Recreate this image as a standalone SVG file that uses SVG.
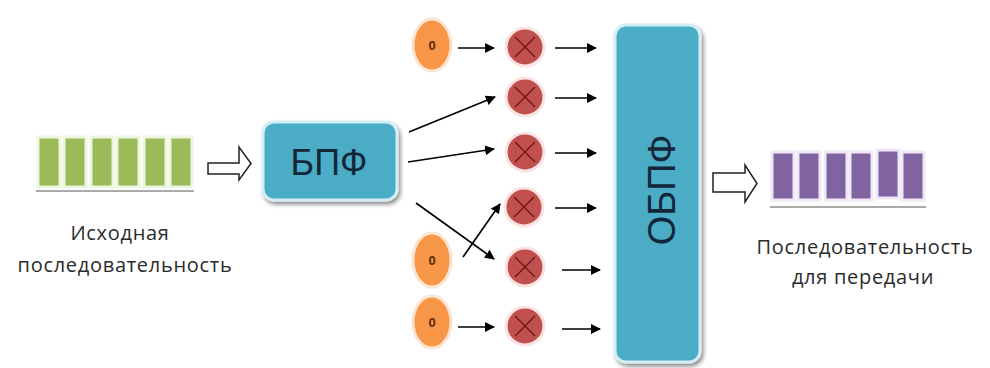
<svg xmlns="http://www.w3.org/2000/svg" width="990" height="368" viewBox="0 0 990 368">
<defs>
<marker id="ah" viewBox="0 0 10 10" refX="9" refY="5" markerWidth="10" markerHeight="10" markerUnits="userSpaceOnUse" orient="auto">
<path d="M0,0 L10,5 L0,10 z" fill="#000"/>
</marker>
<filter id="sh" x="-20%" y="-20%" width="140%" height="140%">
<feGaussianBlur in="SourceAlpha" stdDeviation="2"/>
<feOffset dx="2" dy="3" result="b"/>
<feComponentTransfer><feFuncA type="linear" slope="0.45"/></feComponentTransfer>
<feMerge><feMergeNode/><feMergeNode in="SourceGraphic"/></feMerge>
</filter>
</defs>
<style>
.lbl{font-family:"Open Sans","DejaVu Sans",sans-serif;font-size:20px;fill:#2b2b2b;text-anchor:middle;letter-spacing:0.7px}
.big{font-family:"Liberation Sans",Arial,sans-serif;fill:#14263a;text-anchor:middle}
.zero{font-family:"Liberation Sans",Arial,sans-serif;font-size:13px;font-weight:bold;fill:#5a2a0a;text-anchor:middle}
.g{fill:#9bbb59;stroke:#eef5e0;stroke-width:3}
.p{fill:#8064a2;stroke:#f1e8f7;stroke-width:3}
.blk{fill:#4bacc6;stroke:#d4eef5;stroke-width:3}
.orng{fill:#f79646;stroke:#fde4d0;stroke-width:3}
.mul{fill:#c0504d;stroke:#fbe3e3;stroke-width:3}
.x{stroke:#6e1414;stroke-width:1.3}
.hollow{fill:#fff;stroke:#222;stroke-width:1.5}
.base{stroke:#aaa;stroke-width:2}
.c{stroke:#000;stroke-width:1.7;fill:none;marker-end:url(#ah)}
</style>
<rect width="990" height="368" fill="#fff"/>

<g id="input-seq">
<line class="base" x1="36" y1="191" x2="194" y2="191"/>
<rect class="g" x="38" y="137" width="22" height="50"/>
<rect class="g" x="64" y="137" width="22" height="50"/>
<rect class="g" x="91" y="137" width="22" height="50"/>
<rect class="g" x="117" y="137" width="22" height="50"/>
<rect class="g" x="144" y="137" width="22" height="50"/>
<rect class="g" x="170" y="137" width="22" height="50"/>
<text class="lbl" x="120" y="240">Исходная</text>
<text class="lbl" x="125" y="272">последовательность</text>
</g>

<g id="fft">
<rect class="blk" x="263" y="122" width="134" height="78" rx="11" filter="url(#sh)"/>
<text class="big" x="329" y="175" font-size="36">БПФ</text>
</g>

<g id="ifft">
<rect class="blk" x="615" y="25" width="85" height="337" rx="11" filter="url(#sh)"/>
<text class="big" transform="translate(675,190) rotate(-90)" font-size="38">ОБПФ</text>
</g>

<g id="output-seq">
<line class="base" x1="770" y1="207" x2="926" y2="207"/>
<rect class="p" x="772" y="152" width="22" height="48"/>
<rect class="p" x="798" y="152" width="22" height="48"/>
<rect class="p" x="825" y="152" width="22" height="48"/>
<rect class="p" x="850" y="152" width="22" height="48"/>
<rect class="p" x="877" y="150" width="22" height="48"/>
<rect class="p" x="902" y="152" width="22" height="48"/>
<text class="lbl" x="865" y="254">Последовательность</text>
<text class="lbl" x="863" y="284">для передачи</text>
</g>

<g id="zero1"><ellipse class="orng" cx="432" cy="45" rx="19" ry="26"/><text class="zero" x="432" y="50">0</text></g>
<g id="zero2"><ellipse class="orng" cx="432" cy="260" rx="19" ry="27"/><text class="zero" x="432" y="265">0</text></g>
<g id="zero3"><ellipse class="orng" cx="432" cy="322" rx="19" ry="26"/><text class="zero" x="432" y="327">0</text></g>

<g id="mul1"><circle class="mul" cx="525" cy="47" r="19"/><path class="x" d="M515,37 L535,57 M535,37 L515,57"/></g>
<g id="mul2"><circle class="mul" cx="525" cy="97" r="19"/><path class="x" d="M515,87 L535,107 M535,87 L515,107"/></g>
<g id="mul3"><circle class="mul" cx="525" cy="152" r="19"/><path class="x" d="M515,142 L535,162 M535,142 L515,162"/></g>
<g id="mul4"><circle class="mul" cx="524" cy="207" r="19"/><path class="x" d="M514,197 L534,217 M534,197 L514,217"/></g>
<g id="mul5"><circle class="mul" cx="525" cy="267" r="19"/><path class="x" d="M515,257 L535,277 M535,257 L515,277"/></g>
<g id="mul6"><circle class="mul" cx="525" cy="326" r="19"/><path class="x" d="M515,316 L535,336 M535,316 L515,336"/></g>

<g id="connectors">
<path class="hollow" d="M208,163 H239 V147 L251,163.5 L239,180 V174 H208 Z"/>
<path class="hollow" d="M713,173 H745 V165 L757,183.5 L745,202 V192 H713 Z"/>
<line class="c" x1="458" y1="48" x2="494" y2="48"/>
<line class="c" x1="409" y1="132" x2="495" y2="97"/>
<line class="c" x1="408" y1="162" x2="494" y2="149"/>
<line class="c" x1="463" y1="257" x2="500" y2="204"/>
<line class="c" x1="416" y1="203" x2="494" y2="259"/>
<line class="c" x1="458" y1="327" x2="494" y2="327"/>
<line class="c" x1="555" y1="48" x2="596" y2="48"/>
<line class="c" x1="555" y1="98" x2="596" y2="98"/>
<line class="c" x1="555" y1="153" x2="596" y2="153"/>
<line class="c" x1="555" y1="208" x2="596" y2="208"/>
<line class="c" x1="562" y1="270" x2="600" y2="270"/>
<line class="c" x1="562" y1="329" x2="600" y2="329"/>
</g>
</svg>
